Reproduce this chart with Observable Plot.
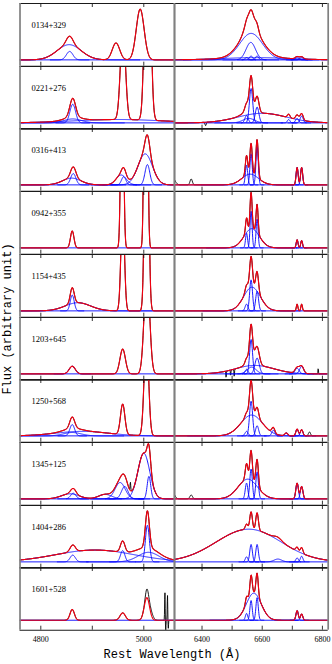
<!DOCTYPE html>
<html><head><meta charset="utf-8">
<script src="https://cdn.jsdelivr.net/npm/d3@7"></script>
<script src="https://cdn.jsdelivr.net/npm/@observablehq/plot@0.6"></script>
<style>
html,body{margin:0;padding:0;background:#fff;}
#wrap{position:relative;width:332px;height:664px;overflow:hidden;background:#fff;}
#wrap svg{position:absolute;overflow:visible;}
.lab{position:absolute;font-family:"Liberation Mono",monospace;font-size:12px;white-space:nowrap;color:#000;}
</style></head><body><div id="wrap"></div>
<script>
// Objects (rows)
const objects = ["0134+329","0221+276","0316+413","0942+355","1154+435","1203+645","1250+568","1345+125","1404+286","1601+528"];
// Axis ticks
const hbTicks = [4800, 4900, 5000];
const hbTickLabels = [4800, 5000];
const haTicks = [6400, 6500, 6600, 6700, 6800];
const haTickLabels = [6400, 6600, 6800];
// Continuum level per row (normalised flux)
const continuum = [0, 0, 0, 0, 0, 0, 0, 0, 0, 0.065];
// Hbeta/[OIII] fitted components per row: [centre Å, FWHM Å, peak, shown in blue]
const hbComps = [
  [[4855,55,0.27,1],[4856,15,0.15,1],[4946,17,0.30,0],[4993,18,0.90,0]],
  [[4862,13,0.33,1],[4862,40,0.07,1],[4950,200,0.06,1],[4959.5,11.5,1.63,0],[5007.5,11.5,4.9,0]],
  [[4863,12,0.20,1],[4860,42,0.12,1],[4956,23,0.175,1],[4961,10,0.145,1],[5002.7,33,0.55,1],[5007,11,0.36,1]],
  [[4861,8,0.30,0],[4958,6,4,0],[5004,6,10,0]],
  [[4861,9,0.28,1],[4872,58,0.145,1],[4959,8,1.8,0],[5005.5,8,5.4,0]],
  [[4861,14,0.135,1],[4959,12.5,0.44,0],[5006,12.5,1.8,0]],
  [[4861,11,0.20,1],[4861,40,0.06,1],[4880,120,0.08,1],[4959,10,0.54,0],[5005,10,1.8,0]],
  [[4863,12,0.10,1],[4857,40,0.09,1],[4925,30,0.08,1],[4954,23,0.29,1],[4963,15,0.22,1],[5000,27,0.81,1],[5010,8,0.40,1]],
  [[4905,180,0.21,1],[5009,48,0.17,1],[4862,12,0.12,1],[4959,10,0.20,1],[5007,9,0.65,1]],
  [[4861,10,0.19,0],[4959,12,0.13,0],[5006,12,0.40,0]]
];
// Halpha/[NII]/[SII] fitted components per row
const haComps = [
  [[6563,90,0.47,1],[6562,37,0.31,1],[6563,12,0.07,1],[6548,12,0.04,1],[6583,12,0.07,1],[6580,260,0.04,1],[6716,14,0.04,1],[6731,14,0.04,1]],
  [[6563,13,0.61,1],[6583,14,0.28,1],[6548,13,0.13,1],[6600,190,0.17,1],[6555,45,0.08,1],[6688,10,0.06,1],[6716,12,0.08,1],[6731,12,0.12,1]],
  [[6563,9,0.55,1],[6583,9,0.67,1],[6548,9,0.35,1],[6560,65,0.19,1],[6716,8,0.31,1],[6731,8,0.31,1]],
  [[6563,8,0.65,1],[6583,8,0.51,1],[6548,8,0.26,1],[6565,60,0.34,1],[6716,7,0.145,1],[6731,7,0.13,1]],
  [[6563,11,0.55,1],[6566,65,0.42,1],[6583,11,0.35,1],[6548,11,0.12,1],[6716,6,0.12,0],[6731,6,0.12,0]],
  [[6563,11.5,0.61,1],[6565,35,0.12,1],[6583,17,0.28,1],[6548,11.5,0.08,1],[6575,150,0.15,1],[6716,16,0.10,1],[6731,16,0.13,1]],
  [[6563,12,0.615,1],[6565,85,0.37,1],[6583,12,0.18,1],[6548,12,0.08,1],[6637,12,0.10,1],[6680,12,0.05,1],[6716,10,0.12,1],[6731,10,0.11,1]],
  [[6552,76,0.35,1],[6563,10,0.53,1],[6583,10,0.48,1],[6548,10,0.28,1],[6716,10,0.28,1],[6731,10,0.22,1]],
  [[6555,255,0.58,1],[6563,10,0.31,1],[6583,10,0.31,1],[6548,10,0.09,1],[6652,30,0.05,1],[6716,10,0.07,1],[6731,10,0.10,1]],
  [[6572,58,0.48,1],[6563,9,0.35,1],[6583,9,0.40,1],[6548,9,0.12,1],[6716,9,0.17,1],[6731,9,0.11,1]]
];
// Observed-spectrum features not in the fit: [centre Å, FWHM Å, height]
const hbExtra = [
  [], [], [], [], [], [], [],
  [[4974,1.5,0.15]],
  [],
  [[5006,7,0.14],[5014,10,0.08],[5041,1.2,0.5],[5042.5,1.2,-0.18],[5046,1.2,0.45],[5047.5,1.2,-0.15]]
];
const haExtra = [
  [],
  [[6412,5,-0.06]],
  [[6303,18,0.12],[6364,9,0.105]],
  [], [],
  [[6480,2,-0.12],[6495,2,-0.10],[6507,2,-0.14],[6786,2,0.10]],
  [[6757,8,0.07]],
  [[6303,16,0.10],[6364,10,0.07]],
  [], []
];

const rowH = 62.7, top0 = 3;
const yDom = [-6.3 / 56.4, 1];
const tickLen = 0.071;
const G = (x, c, w, a) => a * Math.exp(-4 * Math.LN2 * (x - c) * (x - c) / (w * w));
const wrap = document.getElementById("wrap");

function panel(col, i) {
  const domain = col === 0 ? [4759.6, 5059.6] : [6308.6, 6819.2];
  const step = col === 0 ? 0.5 : 1;
  const comps = (col === 0 ? hbComps : haComps)[i];
  const extra = (col === 0 ? hbExtra : haExtra)[i];
  const c0 = continuum[i];
  const xs = d3.range(domain[0], domain[1] + step / 2, step);
  const red = xs.map(x => ({x, y: c0 + d3.sum(comps, c => G(x, c[0], c[1], c[2]))}));
  const black = red.map(d => ({x: d.x, y: d.y + d3.sum(extra, c => G(d.x, c[0], c[1], c[2]))}));
  const blue = [{k: -1, x: domain[0], y: c0}, {k: -1, x: domain[1], y: c0}];
  comps.forEach((c, j) => {
    if (!c[3]) return;
    const lo = Math.max(domain[0], c[0] - 2.5 * c[1]);
    const hi = Math.min(domain[1], c[0] + 2.5 * c[1]);
    const st = Math.min(step, c[1] / 12);
    for (let x = lo; x <= hi + 1e-9; x += st) blue.push({k: j, x, y: c0 + G(x, c[0], c[1], c[2])});
  });
  const last = i === 9;
  const ticks = col === 0 ? hbTicks : haTicks;
  const marks = [
    Plot.line(black, {x: "x", y: "y", stroke: "#000", strokeWidth: 0.9, clip: true}),
    Plot.line(blue, {x: "x", y: "y", z: "k", stroke: "#0000ff", strokeWidth: 0.9, clip: true}),
    Plot.line(red, {x: "x", y: "y", stroke: "#f00010", strokeWidth: 1.15, clip: true}),
    Plot.ruleX(ticks, {y1: 1, y2: 1 - tickLen, stroke: "#000", strokeWidth: 0.8}),
    Plot.ruleX(ticks, {y1: yDom[0], y2: yDom[0] + tickLen, stroke: "#000", strokeWidth: 0.8}),
    Plot.ruleY([yDom[0], 1], {stroke: "#1a1a1a", strokeWidth: 1.1}),
    Plot.ruleX(domain, {stroke: "#808080", strokeWidth: 1.7})
  ];
  if (col === 0) marks.push(Plot.text([objects[i]], {
    text: d => d, frameAnchor: "top-left", dx: 11.5, dy: 18.5, textAnchor: "start",
    fontSize: 8.5, fontFamily: "Liberation Serif", fill: "#000"
  }));
  const svg = Plot.plot({
    width: col === 0 ? 174 : 158,
    height: rowH + (last ? 34 : 0),
    marginLeft: col === 0 ? 19.5 : 0,
    marginRight: col === 0 ? 0 : 4.3,
    marginTop: 0,
    marginBottom: last ? 34 : 0,
    x: {domain, axis: last ? "bottom" : null, ticks: col === 0 ? hbTickLabels : haTickLabels,
        tickSize: 0, tickPadding: 6, tickFormat: d => String(d), label: null},
    y: {domain: yDom, axis: null},
    style: {background: "transparent", overflow: "visible", fontFamily: "Liberation Serif", fontSize: "8px", color: "#000"},
    marks
  });
  svg.style.left = (col === 0 ? 0 : 174) + "px";
  svg.style.top = (top0 + i * rowH) + "px";
  wrap.appendChild(svg);
}
for (let i = 0; i < objects.length; i++) { panel(0, i); panel(1, i); }

const yl = document.createElement("div");
yl.className = "lab";
yl.textContent = "Flux (arbitrary unit)";
yl.style.left = "8px"; yl.style.top = "319px";
yl.style.transform = "translate(-50%,-50%) rotate(-90deg)";
wrap.appendChild(yl);
const xl = document.createElement("div");
xl.className = "lab";
xl.textContent = "Rest Wavelength (Å)";
xl.style.left = "172px"; xl.style.top = "655px";
xl.style.transform = "translate(-50%,-50%)";
wrap.appendChild(xl);
</script></body></html>
